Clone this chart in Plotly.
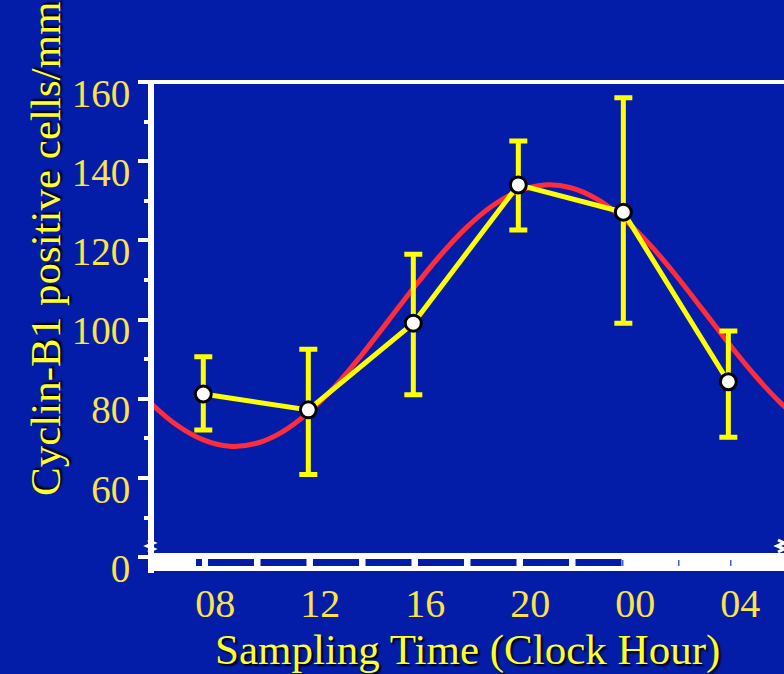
import plotly.graph_objects as go

# ---- data ----
hours = [8, 12, 16, 20, 24, 28]
hour_labels = ["08", "12", "16", "20", "00", "04"]
mean_vals = [81.2, 77.2, 99.1, 134.0, 127.1, 84.3]
upper_vals = [90.6, 92.5, 116.5, 145.1, 156.0, 97.1]
lower_vals = [72.1, 60.9, 81.0, 122.6, 99.1, 70.3]

fit_hours = list(range(5, 32))
fit_vals = [86.0, 78.9, 73.3, 69.6, 68.0, 68.7, 71.6, 76.5, 83.0, 90.8, 99.3,
            107.9, 116.0, 123.1, 128.7, 132.4, 134.0, 133.3, 130.4, 125.5,
            119.0, 111.2, 102.7, 94.1, 86.0, 78.9, 73.3]

y_tickvals = [40, 60, 80, 100, 120, 140, 160]
y_ticktext = ["0", "60", "80", "100", "120", "140", "160"]
y_minor = [50, 70, 90, 110, 130, 150]

# ---- layout geometry ----
W, H = 784, 674
L, T, B = 154, 82, 101
PW, PH = W - L, H - T - B
BG = "#031da8"
TICK_YEL = "#fce34a"
TITLE_YEL = "#ffff2e"


def px_x(px):
    return (px - L) / PW


def px_y(py):
    return (H - B - py) / PH


err_plus = [u - m for u, m in zip(upper_vals, mean_vals)]
err_minus = [m - l for m, l in zip(mean_vals, lower_vals)]

fig = go.Figure()

fig.add_trace(go.Scatter(
    x=fit_hours, y=fit_vals, mode="lines",
    line=dict(color="#ff2d3c", width=5, shape="spline"),
    hoverinfo="skip", showlegend=False,
))

fig.add_trace(go.Scatter(
    x=hours, y=mean_vals, mode="lines+markers",
    line=dict(color="#ffff00", width=5),
    marker=dict(size=16, color="white", line=dict(color="black", width=3)),
    error_y=dict(type="data", array=err_plus, arrayminus=err_minus,
                 color="#ffff00", thickness=5, width=9),
    showlegend=False,
))

shapes = []
# top frame line
shapes.append(dict(type="line", xref="paper", yref="paper",
                   x0=px_x(147), x1=px_x(790), y0=px_y(82), y1=px_y(82),
                   line=dict(color="white", width=4), layer="above"))
# bottom broken-axis band
shapes.append(dict(type="rect", xref="paper", yref="paper",
                   x0=px_x(149), x1=px_x(790), y0=px_y(571), y1=px_y(553),
                   fillcolor="white", line=dict(width=0), layer="above"))
shapes.append(dict(type="line", xref="paper", yref="paper",
                   x0=px_x(208), x1=px_x(622), y0=px_y(562.5), y1=px_y(562.5),
                   line=dict(color=BG, width=7, dash="46px,6.5px"), layer="above"))
shapes.append(dict(type="rect", xref="paper", yref="paper",
                   x0=px_x(196), x1=px_x(202), y0=px_y(566), y1=px_y(559),
                   fillcolor=BG, line=dict(width=0), layer="above"))
for tx in [622, 678, 730]:
    shapes.append(dict(type="rect", xref="paper", yref="paper",
                       x0=px_x(tx), x1=px_x(tx + 1.5), y0=px_y(566), y1=px_y(560),
                       fillcolor="#5060c0", line=dict(width=0), layer="above"))
# break squiggles
for bx in [151, 781]:
    path = "M {} {} L {} {} L {} {} L {} {} L {} {}".format(
        px_x(bx - 3), px_y(540), px_x(bx + 3), px_y(543),
        px_x(bx - 4), px_y(546), px_x(bx + 3), px_y(549),
        px_x(bx - 3), px_y(552))
    shapes.append(dict(type="path", xref="paper", yref="paper", path=path,
                       line=dict(color="white", width=3), layer="above"))

fig.update_layout(
    width=W, height=H,
    margin=dict(l=L, r=0, t=T, b=B, pad=0),
    paper_bgcolor=BG, plot_bgcolor=BG,
    font=dict(family="Liberation Serif, Times New Roman, serif", color=TICK_YEL),
    shapes=shapes,
    xaxis=dict(
        range=[6.122, 30.12], showgrid=False, zeroline=False, showline=False,
        tickmode="array", tickvals=hours, ticktext=hour_labels,
        ticks="", tickfont=dict(size=40, color=TICK_YEL),
        ticklabelshift=12, ticklabelstandoff=3,
    ),
    yaxis=dict(
        range=[36, 160], showgrid=False, zeroline=False,
        showline=True, linecolor="white", linewidth=6,
        tickmode="array", tickvals=y_tickvals, ticktext=y_ticktext,
        ticks="outside", ticklen=10, tickwidth=4, tickcolor="white",
        minor=dict(tickmode="array", tickvals=y_minor, ticks="outside",
                   ticklen=4, tickwidth=4, tickcolor="white"),
        tickfont=dict(size=39, color=TICK_YEL),
        ticklabelshift=11, ticklabelstandoff=0,
    ),
    annotations=[
        dict(text="Sampling Time (Clock Hour)", xref="paper", yref="paper",
             x=px_x(467), y=px_y(650), xanchor="center", yanchor="middle",
             showarrow=False,
             font=dict(size=43, color=TITLE_YEL, shadow="2px 2px 2px #000000",
                       family="Liberation Serif, Times New Roman, serif")),
        dict(text="Cyclin-B1 positive cells/mm", xref="paper", yref="paper",
             x=px_x(45), y=px_y(498), xanchor="center", yanchor="bottom",
             textangle=-90, showarrow=False,
             font=dict(size=43, color=TITLE_YEL, shadow="2px 2px 2px #000000",
                       family="Liberation Serif, Times New Roman, serif")),
    ],
)

fig.write_html(
    "out.html",
    config={"displayModeBar": False},
    post_script="document.body.style.margin='0';document.body.style.padding='0';"
                "document.body.style.overflow='hidden';"
                "document.documentElement.style.background='" + BG + "';",
)
